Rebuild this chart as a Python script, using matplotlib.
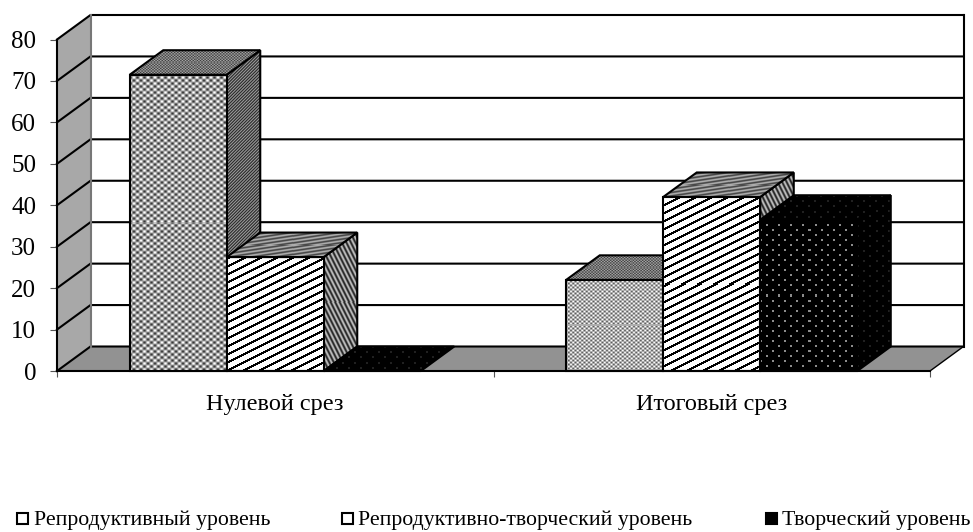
import numpy as np
import matplotlib
matplotlib.use('Agg')
import matplotlib.pyplot as plt
from matplotlib.path import Path
from matplotlib.patches import Polygon, Rectangle

plt.rcParams['font.family'] = ['Liberation Serif', 'DejaVu Serif']

categories = ['Нулевой срез', 'Итоговый срез']
series_names = ['Репродуктивный уровень', 'Репродуктивно-творческий уровень', 'Творческий уровень']
repro = [71.5, 22]
repro_creative = [27.5, 42]
creative = [0, 36.5]
y_ticks = [0, 10, 20, 30, 40, 50, 60, 70, 80]

W, H = 973, 532
fig = plt.figure(figsize=(W / 100, H / 100), dpi=100)
ax = fig.add_axes([57 / W, (H - 371) / H, 873 / W, 331.5 / H])
ax.set_xlim(0, 2)
ax.set_ylim(0, 80)
ax.autoscale(False)
ax.patch.set_visible(False)

# depth of the fake 3d box, in data units
dx = 33.5 / 436.5
dy = 24.5 / 4.144
bar_w = 2 / 9
LW = 1.5


def texture(kind, nx, ny):
    r, c = np.mgrid[0:ny, 0:nx]
    if kind == 'check':
        return 0.62 + 0.4 * np.cos(2 * np.pi * c / 7) * np.cos(2 * np.pi * r / 6)
    if kind == 'check_fine':
        return 0.68 + 0.32 * np.cos(2 * np.pi * c / 4.5) * np.cos(2 * np.pi * r / 4)
    if kind == 'stripes':
        return ((r + 0.5 * c) % 8 > 2.4) * 1.0
    if kind == 'speckle':
        return 0.45 + 0.22 * np.sin(2 * np.pi * c / 3.1) * np.sin(2 * np.pi * r / 2.7)
    if kind == 'side_speckle':
        return 0.38 + 0.2 * np.sin(2 * np.pi * (c + r) / 3.1)
    if kind == 'top_stripes':
        return 0.48 + 0.2 * np.sin(2 * np.pi * (r + 0.15 * c) / 3.5)
    if kind == 'side_stripes':
        return 0.45 + 0.3 * np.sin(2 * np.pi * (c - 0.5 * r) / 4.5)
    # black faces with dots, rows are staggered
    row = r // 5
    dots = ((r % 5) < 2) & (((c + 6 * (row % 2)) % 12) < 2)
    if kind == 'dots':
        return dots * 0.55
    return dots * 0.13


def fill_face(xy, kind):
    xy = np.array(xy, dtype=float)
    x0, x1 = xy[:, 0].min(), xy[:, 0].max()
    y0, y1 = xy[:, 1].min(), xy[:, 1].max()
    p0 = ax.transData.transform((x0, y0))
    p1 = ax.transData.transform((x1, y1))
    nx = max(int(round(p1[0] - p0[0])), 1)
    ny = max(int(round(p1[1] - p0[1])), 1)
    im = ax.imshow(texture(kind, nx, ny), extent=(x0, x1, y0, y1), origin='upper', cmap='gray',
                   vmin=0, vmax=1, aspect='auto', interpolation='nearest', zorder=4)
    im.set_clip_path(Path(xy), ax.transData)
    im.set_clip_box(None)
    ax.add_patch(Polygon(xy, closed=True, fill=False, edgecolor='black', lw=LW, zorder=4, clip_on=False))


# walls and floor
ax.add_patch(Polygon([(0, 0), (dx, dy), (dx, 80 + dy), (0, 80)], facecolor='#a8a8a8', edgecolor='black',
                     lw=0, zorder=1, clip_on=False))
ax.add_patch(Polygon([(0, 0), (2, 0), (2 + dx, dy), (dx, dy)], facecolor='#929292', edgecolor='none',
                     zorder=2, clip_on=False))
for v in y_ticks:
    ax.plot([0, dx, 2 + dx], [v, v + dy, v + dy], color='black', lw=LW, zorder=3, clip_on=False,
            solid_joinstyle='miter')
ax.plot([dx, dx], [dy, 80 + dy], color='#777777', lw=LW, zorder=3, clip_on=False)
ax.plot([2 + dx, 2 + dx], [dy, 80 + dy], color='black', lw=LW, zorder=3, clip_on=False)
ax.plot([2, 2 + dx], [0, dy], color='black', lw=1, zorder=3, clip_on=False)

# front, top, side texture for every series
styles = [('check', 'speckle', 'side_speckle'),
          ('stripes', 'top_stripes', 'side_stripes'),
          ('dots', 'dots_dark', 'dots_dark')]
fine_front = 'check_fine'

for g in range(len(categories)):
    for s, vals in enumerate([repro, repro_creative, creative]):
        v = vals[g]
        x0 = g + 0.5 - 1.5 * bar_w + s * bar_w
        x1 = x0 + bar_w
        front, top, side = styles[s]
        if s == 0 and g == 1:
            front = fine_front
        if v > 0:
            fill_face([(x1, 0), (x1 + dx, dy), (x1 + dx, v + dy), (x1, v)], side)
            fill_face([(x0, 0), (x1, 0), (x1, v), (x0, v)], front)
        fill_face([(x0, v), (x1, v), (x1 + dx, v + dy), (x0 + dx, v + dy)], top)

# axes
for name in ['top', 'right']:
    ax.spines[name].set_visible(False)
ax.spines['left'].set_linewidth(LW)
ax.spines['bottom'].set_linewidth(LW)
ax.spines['left'].set_zorder(5)
ax.spines['bottom'].set_zorder(5)
ax.set_yticks(y_ticks)
ax.set_xticks([0, 1, 2])
ax.set_xticklabels([])
ax.set_xticks([0.5, 1.5], minor=True)
ax.set_xticklabels(categories, minor=True, fontsize=17.5)
ax.tick_params(axis='x', which='minor', length=0, pad=16.5)
ax.tick_params(axis='x', which='major', length=4.5, width=0.8, color='#555555')
ax.tick_params(axis='y', length=5, width=0.8, color='#555555', labelsize=18, pad=10)

# legend
marker_x = [17, 342, 766]
text_x = [34, 358, 782]
marker_fill = ['white', 'white', 'black']
for name, mx, tx, mf in zip(series_names, marker_x, text_x, marker_fill):
    fig.add_artist(Rectangle((mx / W, (H - 524) / H), 11 / W, 11 / H, facecolor=mf, edgecolor='black',
                             lw=1.5, transform=fig.transFigure))
    fig.text(tx / W, (H - 520) / H, name, fontsize=15.7, va='center', ha='left')

fig.savefig('out.png', dpi=100)
